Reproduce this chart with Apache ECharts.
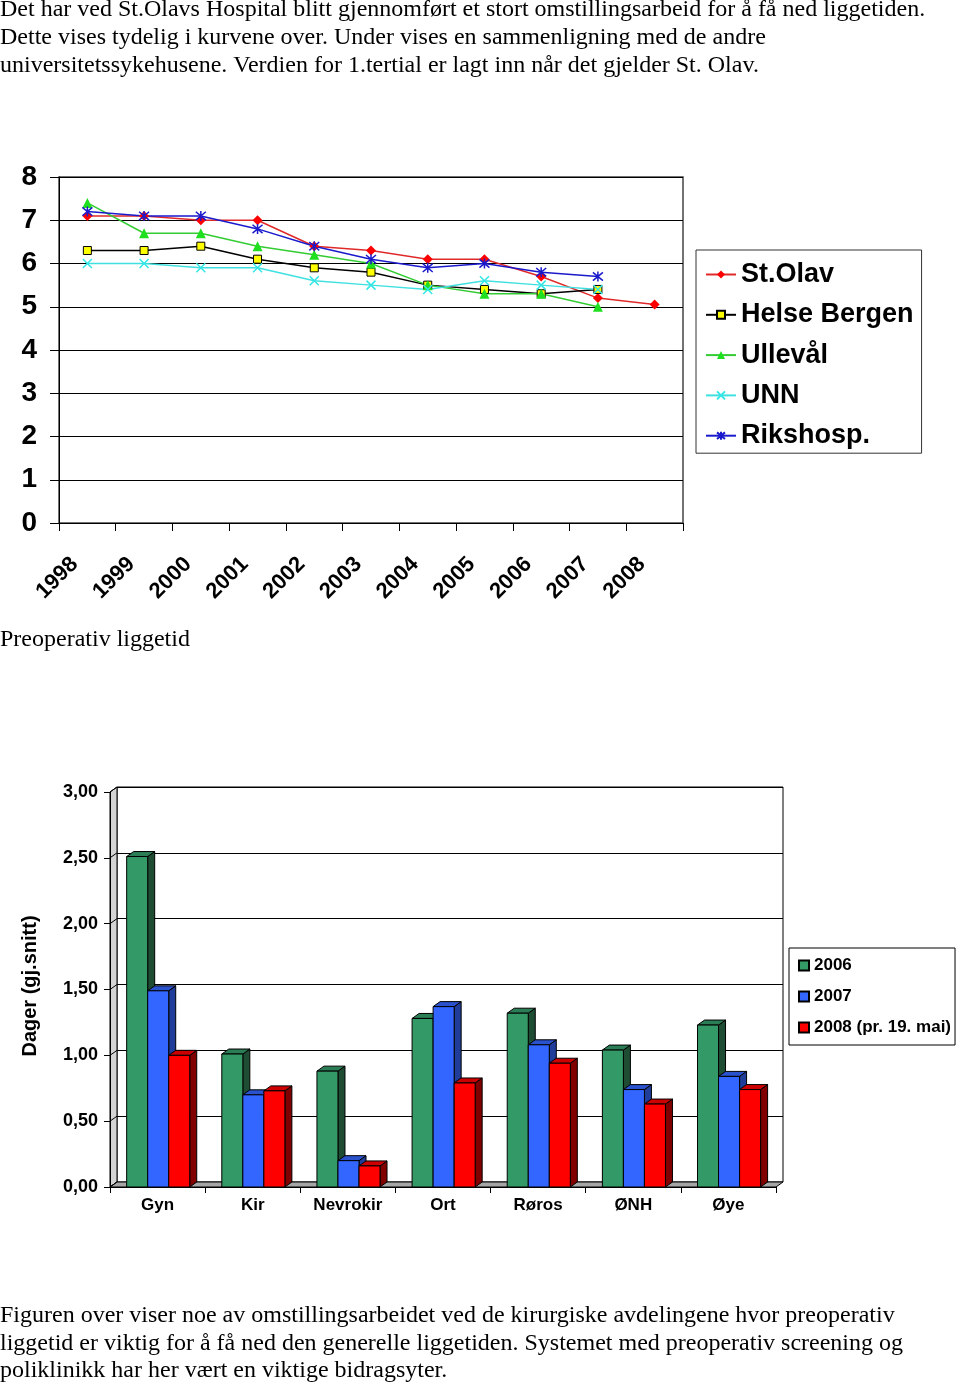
<!DOCTYPE html>
<html><head><meta charset="utf-8">
<script src="https://cdn.jsdelivr.net/npm/echarts@6/dist/echarts.min.js"></script>
<style>html,body{margin:0;padding:0;background:#fff}#c{width:960px;height:1388px}</style>
</head><body><div id="c"></div>
<script>
// ---- Line chart data ----
const years = ['1998','1999','2000','2001','2002','2003','2004','2005','2006','2007','2008'];
const stOlav      = [7.1, 7.1, 7.0, 7.0, 6.4, 6.3, 6.1, 6.1, 5.7, 5.2, 5.05];
const helseBergen = [6.3, 6.3, 6.4, 6.1, 5.9, 5.8, 5.5, 5.4, 5.3, 5.4, null];
const ulleval     = [7.4, 6.7, 6.7, 6.4, 6.2, 6.0, 5.5, 5.3, 5.3, 5.0, null];
const unn         = [6.0, 6.0, 5.9, 5.9, 5.6, 5.5, 5.4, 5.6, 5.5, 5.4, null];
const rikshosp    = [7.2, 7.1, 7.1, 6.8, 6.4, 6.1, 5.9, 6.0, 5.8, 5.7, null];
const lineNames = ['St.Olav','Helse Bergen','Ullevål','UNN','Rikshosp.'];

// ---- Bar chart data ----
const departments = ['Gyn','Kir','Nevrokir','Ort','Røros','ØNH','Øye'];
const v2006 = [2.51, 1.01, 0.88, 1.28, 1.32, 1.04, 1.23];
const v2007 = [1.49, 0.70, 0.20, 1.37, 1.08, 0.74, 0.84];
const v2008 = [1.00, 0.73, 0.16, 0.79, 0.94, 0.63, 0.74];
const barNames = ['2006','2007','2008 (pr. 19. mai)'];

// ---- Texts ----
const introLines = [
  'Det har ved St.Olavs Hospital blitt gjennomført et stort omstillingsarbeid for å få ned liggetiden.',
  'Dette vises tydelig i kurvene over. Under vises en sammenligning med de andre',
  'universitetssykehusene. Verdien for 1.tertial er lagt inn når det gjelder St. Olav.'
];
const midCaption = 'Preoperativ liggetid';
const outroLines = [
  'Figuren over viser noe av omstillingsarbeidet ved de kirurgiske avdelingene hvor preoperativ',
  'liggetid er viktig for å få ned den generelle liggetiden. Systemet med preoperativ screening og',
  'poliklinikk har her vært en viktige bidragsyter.'
];

const SERIF = '"Liberation Serif", "DejaVu Serif", serif';
const SANS = '"Liberation Sans", Arial, sans-serif';
const DX = 7, DY = 5;

const chart = echarts.init(document.getElementById('c'), null, {renderer: 'canvas'});

function textEl(t, x, y, size) {
  return {type: 'text', left: x, top: y - size * 0.5, silent: true,
    style: {text: t, font: size + 'px ' + SERIF, fill: '#000'}};
}
const graphics = [];
introLines.forEach((t, i) => graphics.push(textEl(t, 0, 10 + i * 28, 24)));
graphics.push(textEl(midCaption, 0, 640, 24));
outroLines.forEach((t, i) => graphics.push(textEl(t, 0, 1316 + i * 27.5, 24)));
graphics.push({type: 'text', x: 30, y: 986, rotation: Math.PI / 2, silent: true,
  style: {text: 'Dager (gj.snitt)', font: 'bold 20px ' + SANS, fill: '#000', align: 'center', verticalAlign: 'middle'}});

function bar3d(idx, front, topC, side) {
  return function (params, api) {
    const cat = api.value(0), val = api.value(1);
    const t = api.coord([cat, val]);
    const b = api.coord([cat, 0]);
    const bw = api.size([1, 0])[0] * 0.221;
    const x0 = t[0] - 1.47 * bw + idx * bw;
    const x1 = x0 + bw;
    const yT = t[1], yB = b[1];
    return {type: 'group', children: [
      {type: 'polygon', shape: {points: [[x1, yT], [x1 + DX, yT - DY], [x1 + DX, yB - DY], [x1, yB]]},
        style: {fill: side, stroke: '#000', lineWidth: 1}},
      {type: 'polygon', shape: {points: [[x0, yT], [x1, yT], [x1 + DX, yT - DY], [x0 + DX, yT - DY]]},
        style: {fill: topC, stroke: '#000', lineWidth: 1}},
      {type: 'rect', shape: {x: x0, y: yT, width: bw, height: yB - yT},
        style: {fill: front, stroke: '#000', lineWidth: 1}}
    ]};
  };
}

function wallRender(params, api) {
  const cs = params.coordSys;
  const x = cs.x, y = cs.y, w = cs.width, h = cs.height;
  const children = [
    {type: 'polygon', shape: {points: [[x, y + h], [x + DX, y + h - DY], [x + DX, y - DY], [x, y]]},
      style: {fill: '#d4d4d4', stroke: '#000', lineWidth: 1}},
    {type: 'polygon', shape: {points: [[x, y + h], [x + w, y + h], [x + w + DX, y + h - DY], [x + DX, y + h - DY]]},
      style: {fill: '#a6a6a6', stroke: '#000', lineWidth: 1}}
  ];
  for (let v = 0; v <= 3.0001; v += 0.5) {
    const p = api.coord([0, v]);
    children.push({type: 'line', shape: {x1: x, y1: p[1], x2: x + DX, y2: p[1] - DY},
      style: {stroke: '#000', lineWidth: 1}});
  }
  return {type: 'group', children};
}

const xPath = 'path://M0,0L10,10M10,0L0,10';
const starPath = 'path://M0,0L10,10M10,0L0,10M5,-1L5,11';

function lineSeries(name, data, color, lineColor, symbol, size, extra) {
  return Object.assign({
    type: 'line', name, data, xAxisIndex: 0, yAxisIndex: 0,
    symbol, symbolSize: size, showAllSymbol: true, connectNulls: false,
    lineStyle: {color: lineColor, width: 1.5},
    itemStyle: {color: color},
    emphasis: {disabled: true}, animation: false, z: 3
  }, extra || {});
}

const option = {
  animation: false,
  backgroundColor: '#fff',
  graphic: graphics,
  grid: [
    {left: 59, top: 177, width: 624, height: 346, show: true, borderColor: '#444', borderWidth: 1.5},
    {left: 110, top: 792, width: 666, height: 395},
    {left: 110 + DX, top: 792 - DY, width: 666, height: 395, show: true, borderColor: '#000', borderWidth: 1, z: 0}
  ],
  xAxis: [
    {type: 'category', gridIndex: 0, data: years, boundaryGap: true,
      axisLine: {lineStyle: {color: '#000', width: 1}},
      axisTick: {show: true, length: 8, lineStyle: {color: '#000'}},
      axisLabel: {rotate: 45, margin: 25, padding: [0, 18, 0, 0], color: '#000', fontFamily: SANS,
        fontWeight: 'bold', fontSize: 22, interval: 0},
      splitLine: {show: false}},
    {type: 'category', gridIndex: 1, data: departments, boundaryGap: true,
      axisLine: {lineStyle: {color: '#000', width: 1}},
      axisTick: {show: true, length: 6, lineStyle: {color: '#000'}},
      axisLabel: {margin: 10, color: '#000', fontFamily: SANS, fontWeight: 'bold', fontSize: 17, interval: 0},
      splitLine: {show: false}, z: 5},
    {type: 'category', gridIndex: 2, data: departments, boundaryGap: true, show: false}
  ],
  yAxis: [
    {type: 'value', gridIndex: 0, min: 0, max: 8, interval: 1,
      axisLine: {show: true, lineStyle: {color: '#000', width: 1}},
      axisTick: {show: true, length: 9, lineStyle: {color: '#000'}},
      axisLabel: {margin: 22, color: '#000', fontFamily: SANS, fontWeight: 'bold', fontSize: 28},
      splitLine: {show: true, lineStyle: {color: '#000', width: 1}}},
    {type: 'value', gridIndex: 1, min: 0, max: 3, interval: 0.5,
      axisLine: {show: true, lineStyle: {color: '#000', width: 1}},
      axisTick: {show: true, length: 6, lineStyle: {color: '#000'}},
      axisLabel: {margin: 12, color: '#000', fontFamily: SANS, fontWeight: 'bold', fontSize: 18,
        formatter: v => v.toFixed(2).replace('.', ',')},
      splitLine: {show: false}, z: 5},
    {type: 'value', gridIndex: 2, min: 0, max: 3, interval: 0.5,
      axisLine: {show: false}, axisTick: {show: false}, axisLabel: {show: false},
      splitLine: {show: true, lineStyle: {color: '#000', width: 1}}}
  ],
  legend: [
    {orient: 'vertical', left: 696, top: 250, padding: [11, 8, 4, 9],
      itemWidth: 30, itemHeight: 10, itemGap: 13.3, itemTextGap: 7,
      borderColor: '#333', borderWidth: 1, backgroundColor: '#fff',
      data: lineNames, selectedMode: false,
      textStyle: {fontFamily: SANS, fontWeight: 'bold', fontSize: 27, color: '#000'}},
    {orient: 'vertical', left: 789, top: 948, padding: [9, 4, 9, 9], itemGap: 14,
      itemWidth: 10, itemHeight: 10, itemTextGap: 5,
      borderColor: '#000', borderWidth: 1, backgroundColor: '#fff', selectedMode: false,
      data: barNames.map(n => ({name: n, icon: 'rect'})),
      textStyle: {fontFamily: SANS, fontWeight: 'bold', fontSize: 17, color: '#000'}}
  ],
  series: [
    lineSeries('St.Olav', stOlav, '#ff0000', '#e02a2a', 'diamond', 10),
    lineSeries('Helse Bergen', helseBergen, '#ffff00', '#000000', 'rect', 8,
      {itemStyle: {color: '#ffff00', borderColor: '#000', borderWidth: 1}}),
    lineSeries('Ullevål', ulleval, '#1ee01e', '#33cc33', 'triangle', 10),
    lineSeries('UNN', unn, '#33e6e6', '#40e0e0', xPath, 9,
      {itemStyle: {color: '#33e6e6', borderColor: '#33e6e6', borderWidth: 1.5}}),
    lineSeries('Rikshosp.', rikshosp, '#1a1acc', '#1a1acc', starPath, 10,
      {itemStyle: {color: '#1a1acc', borderColor: '#1a1acc', borderWidth: 1.5}}),
    {type: 'custom', name: '_wall', xAxisIndex: 1, yAxisIndex: 1, data: [[0, 0]], renderItem: wallRender,
      silent: true, z: 1, legendHoverLink: false},
    {type: 'custom', name: barNames[0], xAxisIndex: 1, yAxisIndex: 1, z: 2,
      data: v2006.map((v, i) => [i, v]), itemStyle: {color: '#339966', borderColor: '#000', borderWidth: 1},
      renderItem: bar3d(0, '#339966', '#2b7d55', '#1f4d33')},
    {type: 'custom', name: barNames[1], xAxisIndex: 1, yAxisIndex: 1, z: 2,
      data: v2007.map((v, i) => [i, v]), itemStyle: {color: '#3366ff', borderColor: '#000', borderWidth: 1},
      renderItem: bar3d(1, '#3366ff', '#2a52cc', '#1f3d99')},
    {type: 'custom', name: barNames[2], xAxisIndex: 1, yAxisIndex: 1, z: 2,
      data: v2008.map((v, i) => [i, v]), itemStyle: {color: '#ff0000', borderColor: '#000', borderWidth: 1},
      renderItem: bar3d(2, '#ff0000', '#cc0000', '#800000')}
  ]
};
chart.setOption(option);
</script></body></html>
